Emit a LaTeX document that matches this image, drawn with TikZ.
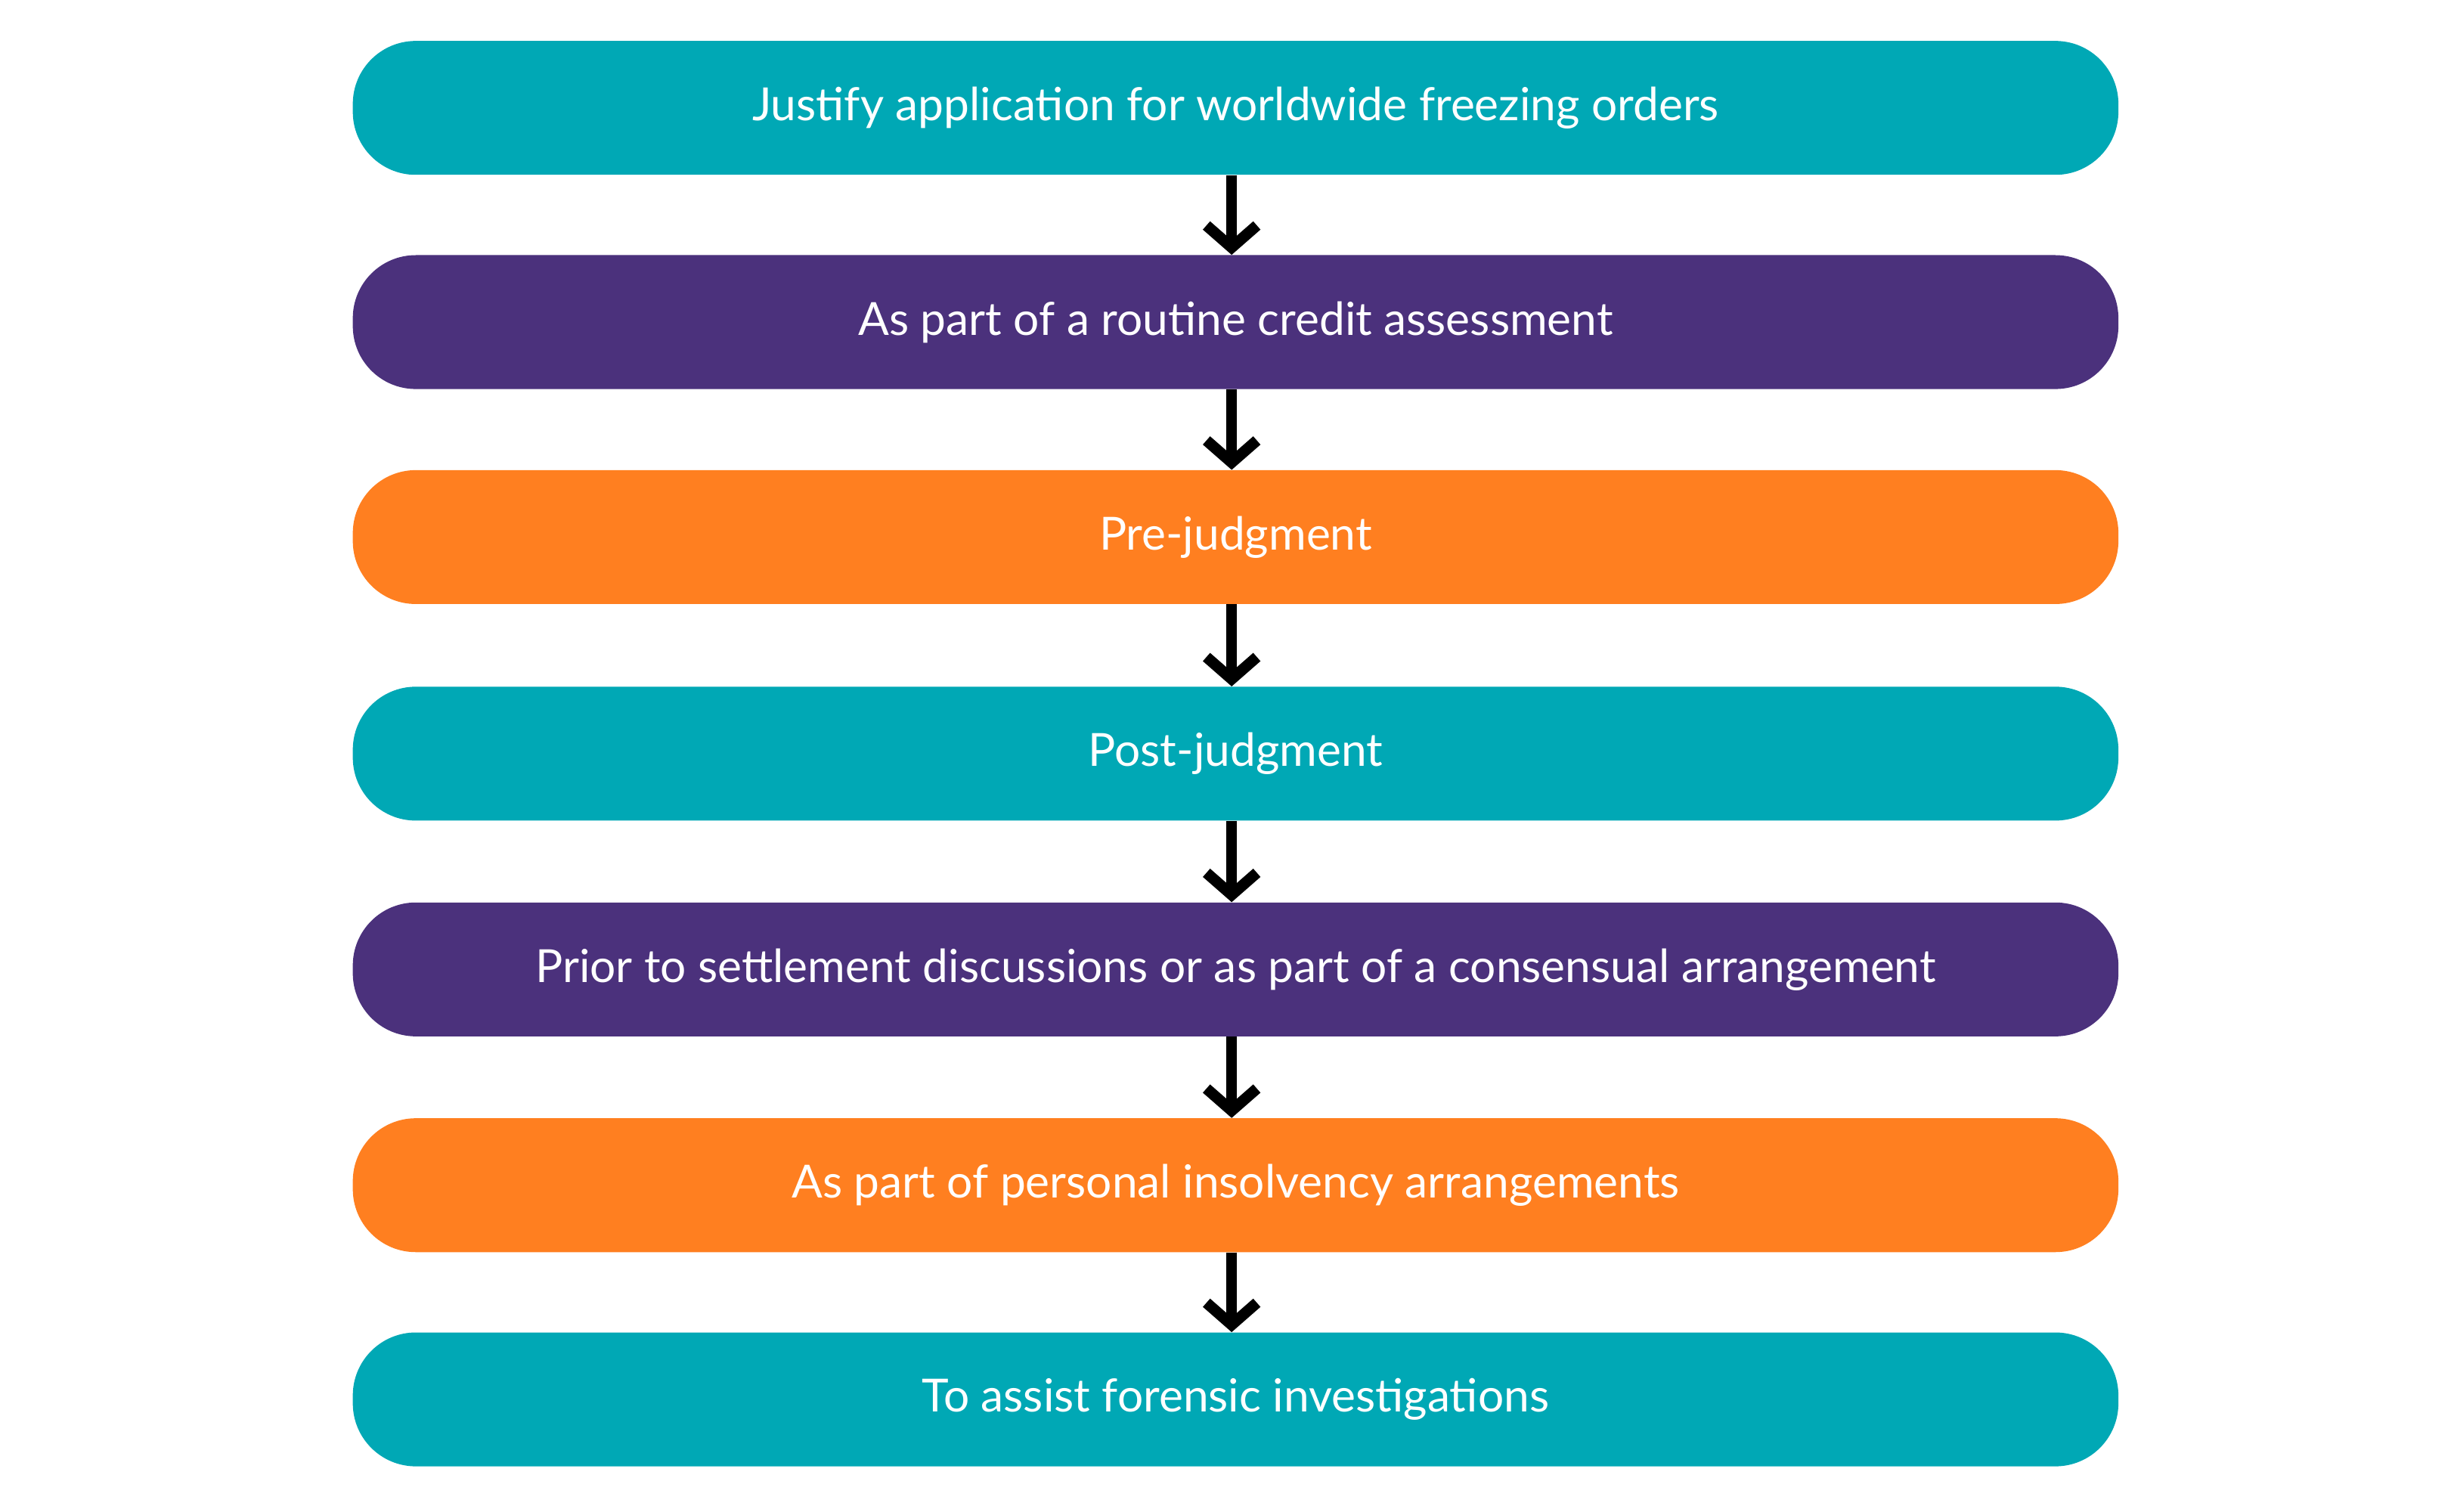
\documentclass[tikz,border=0pt]{standalone}
\usepackage{fontspec}
\setmainfont{Lato}
\usetikzlibrary{arrows.meta}
\definecolor{cteal}{HTML}{00A8B5}
\definecolor{cpurple}{HTML}{4B317C}
\definecolor{corange}{HTML}{FF7F20}
\tikzset{
  box/.style={rounded corners=40pt, minimum width=1121pt, minimum height=85pt, inner sep=0pt, text=white, font=\fontsize{29}{34}\selectfont, anchor=center},
  conn/.style={line width=7pt, -{Straight Barb[length=14pt,width=32pt,line width=7pt]}}
}
\begin{document}
\begin{tikzpicture}[x=1pt,y=-1pt]
\useasboundingbox (0,0) rectangle (1560,960);
\node[box, fill=cteal] (a) at (784.5,68.5) {Justify application for worldwide freezing orders};
\node[box, fill=cpurple] (b) at (784.5,204.5) {As part of a routine credit assessment};
\node[box, fill=corange] (c) at (784.5,341) {Pre-judgment};
\node[box, fill=cteal] (d) at (784.5,478.5) {Post-judgment};
\node[box, fill=cpurple] (e) at (784.5,615.5) {Prior to settlement discussions or as part of a consensual arrangement};
\node[box, fill=corange] (f) at (784.5,752.5) {As part of personal insolvency arrangements};
\node[box, fill=cteal] (g) at (784.5,888.5) {To assist forensic investigations};
\foreach \s/\t in {a/b,b/c,c/d,d/e,e/f,f/g}
  \draw[conn] ([xshift=-2.5pt]\s.south) -- ([xshift=-2.5pt]\t.north);
\end{tikzpicture}
\end{document}
